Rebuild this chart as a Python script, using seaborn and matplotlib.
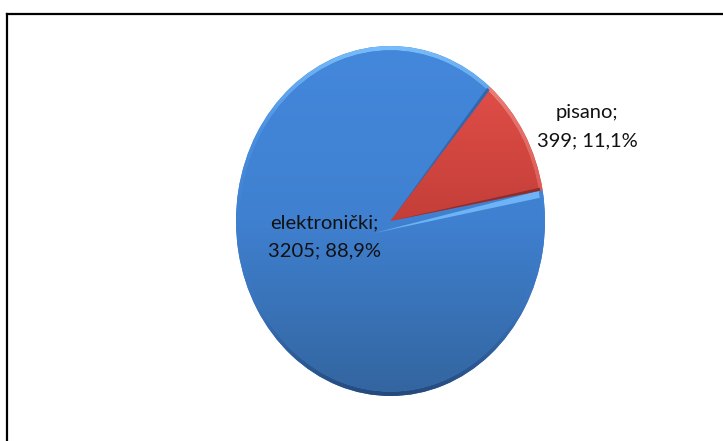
import numpy as np
import matplotlib.pyplot as plt
import seaborn as sns
from matplotlib.patches import Wedge

# data
categories = ['elektronički', 'pisano']
values = [3205, 399]

sns.set_theme(style='white')
plt.rcParams['font.family'] = ['Lato', 'DejaVu Sans']

fig = plt.figure(figsize=(7.23, 4.41), dpi=100)

# black frame, only top and left are visible in the picture
frame = fig.add_axes([7 / 723, 0, 1 - 7 / 723, 1 - 14 / 441])
frame.set_xticks([])
frame.set_yticks([])
for side in ['right', 'bottom']:
    frame.spines[side].set_visible(False)
for side in ['left', 'top']:
    frame.spines[side].set_color('black')
    frame.spines[side].set_linewidth(1.6)

ax = fig.add_axes([236 / 723, 45 / 441, 309 / 723, 350 / 441])
ax.patch.set_alpha(0)

start = 50
colors = ['#3f80d0', '#c93f3a']
no_edge = {'linewidth': 0}

# rim and face gradients, top to bottom
rim_maps = [sns.blend_palette(['#78bcfa', '#4a8fe0', '#3f80d0', '#3a73ba', '#254a7c'], as_cmap=True),
            sns.blend_palette(['#f08a84', '#d8524c', '#8e2a28'], as_cmap=True)]
face_maps = [sns.blend_palette(['#4488dc', '#3f80d0', '#33659f'], as_cmap=True),
             sns.blend_palette(['#e8524c', '#c43e38', '#b03430'], as_cmap=True)]
grad = np.linspace(0, 1, 256).reshape(-1, 1)

rim, _ = ax.pie(values, startangle=start, colors=colors, radius=1.0, wedgeprops=no_edge)
face, _ = ax.pie(values, startangle=start, colors=colors, radius=0.975, wedgeprops=no_edge)

for w, cmap in zip(rim, rim_maps):
    im = ax.imshow(grad, cmap=cmap, extent=(-1, 1, -1, 1), aspect='auto', zorder=3)
    im.set_clip_path(w)
for w, cmap in zip(face, face_maps):
    w.set_zorder(4)
    im = ax.imshow(grad, cmap=cmap, extent=(-1, 1, -1, 1), aspect='auto', zorder=4)
    im.set_clip_path(w)

# light bevel under the red slice, dark line on its lower edge
cut = start + values[0] / sum(values) * 360
bevel = Wedge((-0.11, -0.07), 1.12, cut + 0.5, cut + 2.6, color='#6db3f5', lw=0, zorder=5)
ax.add_patch(bevel)
bevel.set_clip_path(face[0])
ax.add_patch(Wedge((0, 0), 0.985, cut, cut + 1.0, color='#8a2f30', lw=0, zorder=6))
ax.add_patch(Wedge((0, 0), 0.985, start - 0.6, start + 0.6, color='#2f68ad', lw=0, zorder=6))

ax.set_aspect('auto')
ax.set_xlim(-1, 1)
ax.set_ylim(-1, 1)
ax.axis('off')

# data labels
total = sum(values)
labels = [f"{c};\n{v}; {v / total * 100:.1f}%".replace('.', ',') for c, v in zip(categories, values)]
label_pos = [(324 / 723, 1 - 237 / 441), (587 / 723, 1 - 127 / 441)]
for t, (x, y) in zip(labels, label_pos):
    fig.text(x, y, t, ha='center', va='center', fontsize=14.5, color='#111111',
             linespacing=1.8, zorder=10)

fig.savefig('out.png', dpi=100)
